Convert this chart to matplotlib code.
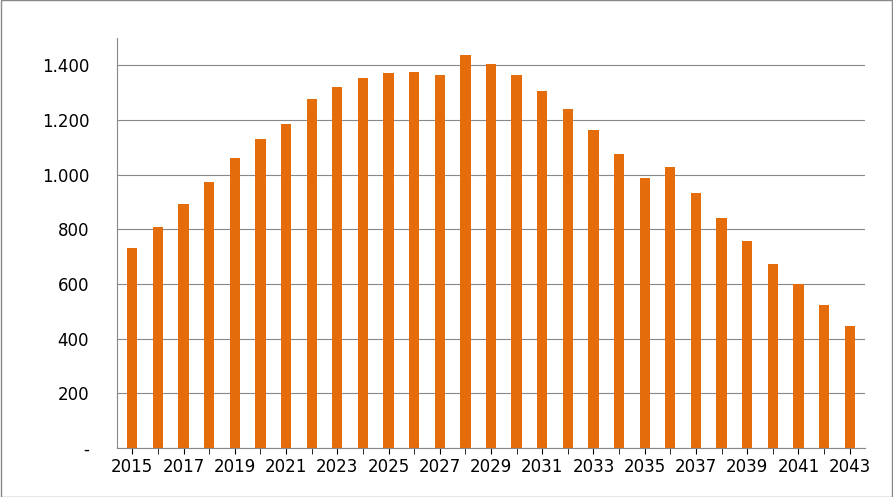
import matplotlib.pyplot as plt
import matplotlib.ticker as mticker

years = list(range(2015, 2044))
values = [730, 808, 892, 972, 1060, 1129, 1186, 1276, 1319, 1352, 1371, 1374, 1363,
          1436, 1404, 1363, 1305, 1239, 1162, 1075, 987, 1027, 932, 841, 757, 672,
          599, 523, 446]

fig = plt.figure(figsize=(8.93, 4.97), dpi=100)
fig.patches.append(plt.Rectangle((0.001, 0.001), 0.998, 0.998, transform=fig.transFigure,
                                 fill=False, edgecolor="#888888", linewidth=1))
ax = fig.add_axes([117 / 893, 49 / 497, 748 / 893, 410 / 497])
ax.bar(years, values, width=0.4, color="#E46C0A", zorder=3)
ax.set_xlim(2014.4, 2043.6)
ax.set_ylim(0, 1500)
ax.set_yticks(range(0, 1401, 200))
ax.yaxis.set_major_formatter(mticker.FuncFormatter(
    lambda v, p: "-" if v == 0 else f"{int(v):,}".replace(",", ".")))
ax.set_xticks(years[::2])
ax.set_xticks(years, minor=True)
ax.tick_params(axis="x", which="both", length=4, labelsize=12)
ax.tick_params(axis="y", length=0, labelsize=12, pad=20)
ax.grid(axis="y", color="#888888", linewidth=0.8, zorder=0)
for s in ["top", "right"]:
    ax.spines[s].set_visible(False)
ax.spines["left"].set_color("#888888")
ax.spines["bottom"].set_color("#888888")
fig.savefig("out.png", dpi=100)
